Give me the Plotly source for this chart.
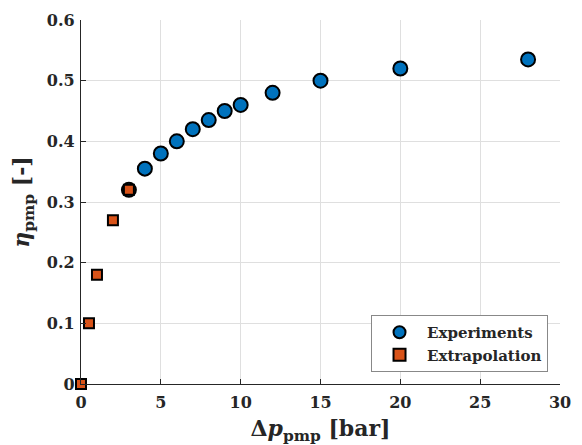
import plotly.graph_objects as go

exp_x = [3, 4, 5, 6, 7, 8, 9, 10, 12, 15, 20, 28]
exp_y = [0.32, 0.355, 0.38, 0.40, 0.42, 0.435, 0.45, 0.46, 0.48, 0.50, 0.52, 0.535]
ext_x = [0, 0.5, 1, 2, 3]
ext_y = [0.0, 0.10, 0.18, 0.27, 0.32]
x_ticks = [0, 5, 10, 15, 20, 25, 30]
y_ticks = [0, 0.1, 0.2, 0.3, 0.4, 0.5, 0.6]
y_tick_labels = ["0", "0.1", "0.2", "0.3", "0.4", "0.5", "0.6"]

FONT = "DejaVu Serif"

fig = go.Figure()
fig.add_trace(go.Scatter(
    x=exp_x, y=exp_y, mode="markers", name="<b>Experiments</b>",
    marker=dict(symbol="circle", size=14, color="#0072BD",
                line=dict(color="black", width=2)),
    cliponaxis=False))
fig.add_trace(go.Scatter(
    x=ext_x, y=ext_y, mode="markers", name="<b>Extrapolation</b>",
    marker=dict(symbol="square", size=10, color="#D95319",
                line=dict(color="black", width=2)),
    cliponaxis=False))

fig.update_layout(
    width=574, height=437,
    margin=dict(l=73, r=22, t=12, b=61),
    plot_bgcolor="white", paper_bgcolor="white",
    font=dict(family=FONT, color="#262626", size=16),
    showlegend=True,
    legend=dict(x=0.975, y=0.033, xanchor="right", yanchor="bottom",
                bgcolor="white", bordercolor="#888888", borderwidth=1,
                font=dict(family=FONT, size=15, color="#262626"),
                tracegroupgap=0, itemsizing="constant", itemwidth=45),
    xaxis=dict(range=[0, 30], tickvals=x_ticks,
               ticktext=[f"<b>{v}</b>" for v in x_ticks],
               showgrid=True, gridcolor="#DFDFDF", gridwidth=1,
               showline=True, linecolor="#262626", linewidth=1.2,
               ticks="inside", ticklen=5, tickcolor="#262626",
               zeroline=False, mirror=False, automargin=False,
               ticklabelstandoff=4,
               title=dict(text="<b>Δ<i>p</i><sub>pmp</sub> [bar]</b>",
                          font=dict(size=22), standoff=18)),
    yaxis=dict(range=[0, 0.6], tickvals=y_ticks,
               ticktext=[f"<b>{t}</b>" for t in y_tick_labels],
               showgrid=True, gridcolor="#DFDFDF", gridwidth=1,
               showline=True, linecolor="#262626", linewidth=1.2,
               ticks="inside", ticklen=5, tickcolor="#262626",
               zeroline=False, mirror=False, automargin=False,
               ticklabelstandoff=2,
               title=dict(text="<b><i>η</i><sub>pmp</sub> [-]</b>",
                          font=dict(size=22), standoff=14)),
)

fig.write_html("out.html")
